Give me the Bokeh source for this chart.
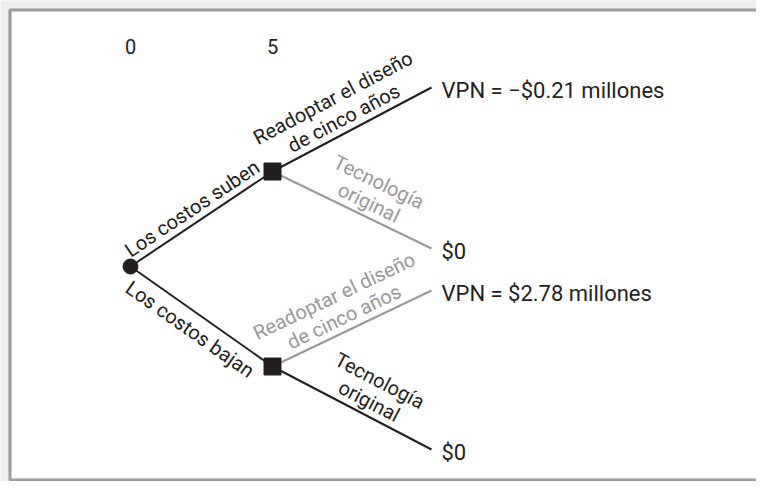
import numpy as np
from bokeh.plotting import figure
from bokeh.models import Range1d, BoxAnnotation
from bokeh.core.properties import value
from bokeh.embed import file_html
from bokeh.resources import INLINE

# ---- data ----
stage_labels = ["0", "5"]
branch_labels = [
    ["Los costos suben"],
    ["Los costos bajan"],
    ["Readoptar el diseño", "de cinco años"],
    ["Tecnología", "original"],
    ["Readoptar el diseño", "de cinco años"],
    ["Tecnología", "original"],
]
branch_active = [True, True, True, False, False, True]
outcome_npv = [-0.21, None, 2.78, None]   # millones; None -> $0

# ---- layout (figure pixel coordinates) ----
W, H = 756, 481
node_x = [130, 272, 272, 431, 431, 431, 431]
node_y = [266, 171, 366, 87, 248, 290, 449]
branch_from = [0, 0, 1, 1, 2, 2]
branch_to = [1, 2, 3, 4, 5, 6]
label_side = [1, -1, 1, 1, 1, 1]          # 1 = above the line, -1 = below

BLACK = "#231f20"
GRAY = "#97989a"
FONT = "Roboto"
FS = "20px"
FS_OUT = "22px"

p = figure(width=W, height=H, output_backend="svg", toolbar_location=None,
           x_range=Range1d(0, W), y_range=Range1d(H, 0), min_border=0,
           x_axis_location=None, y_axis_location=None)
p.grid.visible = False
p.outline_line_color = None
p.background_fill_color = "#eeeeee"
p.border_fill_color = "#eeeeee"

# white panel with grey frame
p.add_layout(BoxAnnotation(left=9.5, right=W + 10, top=9.5, bottom=H - 1.5,
                           fill_color="white", fill_alpha=1.0,
                           line_color="#9a9a9a", line_alpha=1.0, line_width=3,
                           level="underlay"))

# branches + labels
for i, (a, b) in enumerate(zip(branch_from, branch_to)):
    col = BLACK if branch_active[i] else GRAY
    x0, y0, x1, y1 = node_x[a], node_y[a], node_x[b], node_y[b]
    p.line([x0, x1], [y0, y1], line_color=col, line_width=2)
    dx, dy = x1 - x0, y1 - y0
    L = np.hypot(dx, dy)
    ux, uy = dx / L, dy / L
    nx, ny = uy, -ux        # normal pointing up on screen
    ang = -np.arctan2(dy, dx)
    mx, my = (x0 + x1) / 2, (y0 + y1) / 2
    lines = branch_labels[i]
    nl = len(lines)
    for j, t in enumerate(lines):
        if label_side[i] > 0:
            dist = 14 + 23 * (nl - 1 - j)
        else:
            dist = -17 - 23 * j
        along = 12 if lines[0] == "Tecnología" else -2
        tx = mx + along * ux + dist * nx
        ty = my + along * uy + dist * ny
        p.text([tx], [ty], text=[t], angle=ang, text_align="center",
               text_baseline="middle", text_color=col,
               text_font=value(FONT), text_font_size=FS)

# nodes
p.scatter(node_x[:1], node_y[:1], marker="circle", size=15, color=BLACK)
p.scatter(node_x[1:3], node_y[1:3], marker="square", size=17, color=BLACK)

# outcome labels
out_text = []
for v in outcome_npv:
    if v is None:
        out_text.append("$0")
    else:
        sign = "−" if v < 0 else ""
        out_text.append(f"VPN = {sign}${abs(v):.2f} millones")
p.text([x + 10 for x in node_x[3:]], [y + 3 for y in node_y[3:]], text=out_text,
       text_align="left", text_baseline="middle", text_color=BLACK,
       text_font=value(FONT), text_font_size=FS_OUT)

# stage labels
p.text([node_x[0], node_x[1]], [46, 46], text=stage_labels, text_align="center",
       text_baseline="middle", text_color=BLACK, text_font=value(FONT),
       text_font_size=FS)

open("out.html", "w").write(file_html(p, INLINE))
